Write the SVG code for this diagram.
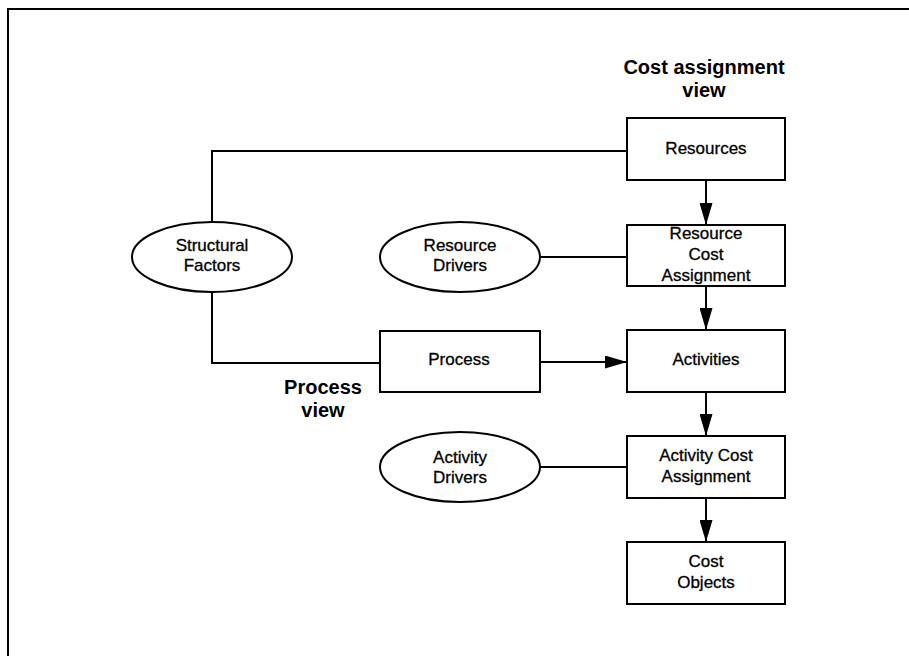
<svg xmlns="http://www.w3.org/2000/svg" width="909" height="656" viewBox="0 0 909 656">
  <style>
    .box { fill: #fff; stroke: #000; stroke-width: 2; }
    .oval { fill: #fff; stroke: #000; stroke-width: 2; }
    .wire { fill: none; stroke: #000; stroke-width: 2; }
    .lbl { font-family: "Liberation Sans", Arial, sans-serif; font-size: 17px; text-anchor: middle; fill: #000; stroke: #000; stroke-width: 0.3; }
    .view { font-family: "Liberation Sans", Arial, sans-serif; font-size: 20px; font-weight: bold; text-anchor: middle; fill: #000; }
  </style>
  <defs>
    <!-- solid triangular arrowhead, 22 long by 13 wide -->
    <marker id="head" markerWidth="22" markerHeight="13" refX="22" refY="6.5" orient="auto" markerUnits="userSpaceOnUse" viewBox="0 0 22 13">
      <path d="M0,0 L22,6.5 L0,13 Z" fill="#000"/>
    </marker>
  </defs>
  <rect width="909" height="656" fill="#fff"/>

  <!-- frame -->
  <path class="wire" d="M8,656 L8,9 L909,9"/>

  <!-- view captions -->
  <g id="cost-view">
    <text class="view" x="704" y="74">Cost assignment</text>
    <text class="view" x="704" y="97">view</text>
  </g>
  <g id="process-view">
    <text class="view" x="323" y="394">Process</text>
    <text class="view" x="323" y="417">view</text>
  </g>

  <!-- connectors -->
  <g id="connectors">
    <path class="wire" d="M212,221 L212,151 L627,151"/>
    <path class="wire" d="M212,292 L212,363 L380,363"/>
    <path class="wire" d="M540,257 L627,257"/>
    <path class="wire" d="M540,467 L627,467"/>
    <path class="wire" d="M540,362 L627,362" marker-end="url(#head)"/>
    <path class="wire" d="M706,180 L706,225" marker-end="url(#head)"/>
    <path class="wire" d="M706,286 L706,330" marker-end="url(#head)"/>
    <path class="wire" d="M706,392 L706,436" marker-end="url(#head)"/>
    <path class="wire" d="M706,498 L706,542" marker-end="url(#head)"/>
  </g>

  <!-- cost assignment column -->
  <g id="resources">
    <rect class="box" x="627" y="118" width="158" height="62"/>
    <text class="lbl" x="706" y="154">Resources</text>
  </g>
  <g id="resource-cost-assignment">
    <rect class="box" x="627" y="225" width="158" height="61"/>
    <text class="lbl" x="706" y="239">Resource</text>
    <text class="lbl" x="706" y="260">Cost</text>
    <text class="lbl" x="706" y="281">Assignment</text>
  </g>
  <g id="activities">
    <rect class="box" x="627" y="330" width="158" height="62"/>
    <text class="lbl" x="706" y="365">Activities</text>
  </g>
  <g id="activity-cost-assignment">
    <rect class="box" x="627" y="436" width="158" height="62"/>
    <text class="lbl" x="706" y="461">Activity Cost</text>
    <text class="lbl" x="706" y="482">Assignment</text>
  </g>
  <g id="cost-objects">
    <rect class="box" x="627" y="542" width="158" height="62"/>
    <text class="lbl" x="706" y="567">Cost</text>
    <text class="lbl" x="706" y="588">Objects</text>
  </g>

  <!-- process column -->
  <g id="process">
    <rect class="box" x="380" y="331" width="160" height="61"/>
    <text class="lbl" x="459" y="365">Process</text>
  </g>

  <!-- drivers and factors -->
  <g id="structural-factors">
    <ellipse class="oval" cx="212" cy="257" rx="80" ry="35"/>
    <text class="lbl" x="212" y="251">Structural</text>
    <text class="lbl" x="212" y="271">Factors</text>
  </g>
  <g id="resource-drivers">
    <ellipse class="oval" cx="460" cy="257" rx="80" ry="35"/>
    <text class="lbl" x="460" y="251">Resource</text>
    <text class="lbl" x="460" y="271">Drivers</text>
  </g>
  <g id="activity-drivers">
    <ellipse class="oval" cx="460" cy="467" rx="80" ry="35"/>
    <text class="lbl" x="460" y="463">Activity</text>
    <text class="lbl" x="460" y="483">Drivers</text>
  </g>
</svg>
